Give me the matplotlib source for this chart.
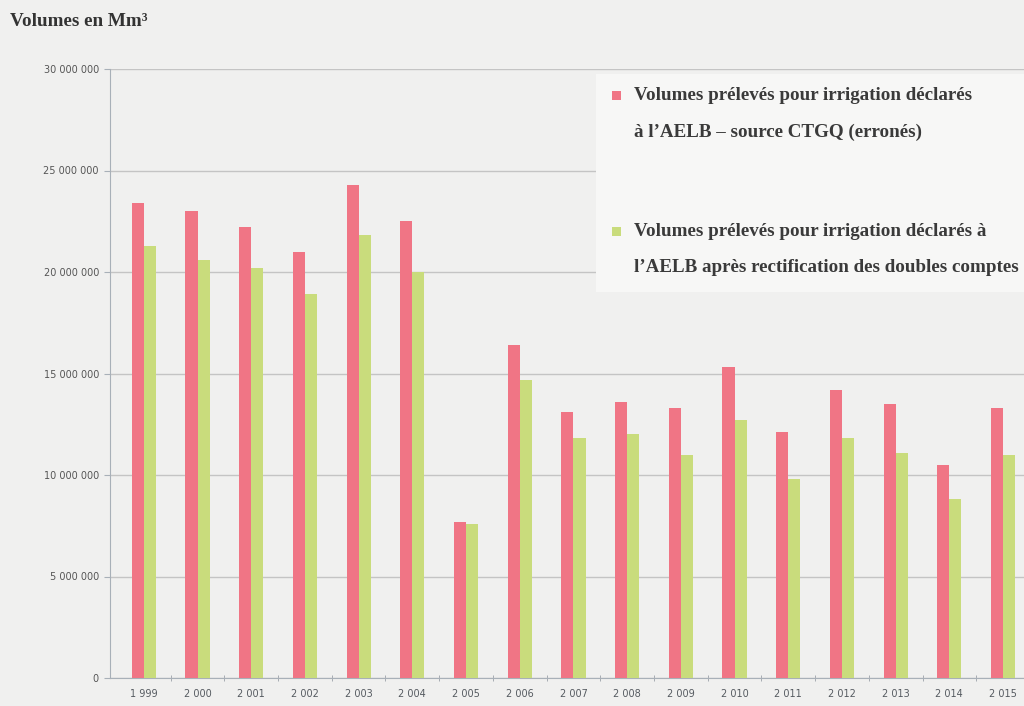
import matplotlib
matplotlib.use("Agg")
import matplotlib.pyplot as plt
from matplotlib.patches import Rectangle
from matplotlib.ticker import FuncFormatter, MultipleLocator
import numpy as np

years = [1999, 2000, 2001, 2002, 2003, 2004, 2005, 2006, 2007, 2008,
         2009, 2010, 2011, 2012, 2013, 2014, 2015]
declared_ctgq = [23.4, 23.0, 22.2, 21.0, 24.3, 22.5, 7.7, 16.4, 13.1, 13.6,
                 13.3, 15.3, 12.1, 14.2, 13.5, 10.5, 13.3]
rectified = [21.3, 20.6, 20.2, 18.9, 21.8, 20.0, 7.6, 14.7, 11.8, 12.0,
             11.0, 12.7, 9.8, 11.8, 11.1, 8.8, 11.0]
series_labels = [
    ["Volumes prélevés pour irrigation déclarés",
     "à l’AELB – source CTGQ (erronés)"],
    ["Volumes prélevés pour irrigation déclarés à",
     "l’AELB après rectification des doubles comptes"],
]
title = "Volumes en Mm³"

red = "#f07585"
green = "#c9dc7c"
bg = "#f0f0ef"

W, H = 1024, 706
fig = plt.figure(figsize=(W / 100, H / 100), dpi=100, facecolor=bg)
ax = fig.add_axes([110 / W, 1 - 678 / H, 1 - 110 / W, (678 - 69) / H])
ax.set_facecolor(bg)

x = np.arange(len(years))
bw = 0.225
v1 = np.array(declared_ctgq) * 1e6
v2 = np.array(rectified) * 1e6
ax.bar(x - bw / 2, v1, width=bw, color=red, zorder=3)
ax.bar(x + bw / 2, v2, width=bw, color=green, zorder=3)

ax.set_xlim(-0.63, 16.39)
ax.set_ylim(0, 30e6)
ax.yaxis.set_major_locator(MultipleLocator(5e6))
ax.yaxis.set_major_formatter(FuncFormatter(lambda v, p: f"{int(v):,}".replace(",", " ")))
ax.set_xticks(x)
ax.set_xticklabels([f"{y:,}".replace(",", " ") for y in years])
ax.set_xticks(np.arange(len(years) - 1) + 0.5, minor=True)
ax.tick_params(axis="x", which="major", length=0, labelsize=7, colors="#555a60", pad=8)
ax.tick_params(axis="x", which="minor", length=5, direction="inout", color="#9aa0a8")
ax.tick_params(axis="y", length=4, labelsize=7, colors="#555555", pad=4)
ax.grid(axis="y", color="#c4c4c4", linewidth=1, zorder=0)
for s in ["top", "right"]:
    ax.spines[s].set_visible(False)
ax.spines["left"].set_color("#a8b0b8")
ax.spines["bottom"].set_color("#a8b0b8")
ax.tick_params(axis="y", color="#a8b0b8")

fig.text(10 / W, 1 - 22 / H, title, fontsize=13.8, fontweight="bold",
         family="Liberation Serif", color="#333333", va="center", ha="left")

# legend area
fig.patches.append(Rectangle((596 / W, 1 - 292 / H), (W - 596) / W, (292 - 74) / H,
                             transform=fig.transFigure, facecolor="#f7f7f6",
                             edgecolor="none", zorder=1))
colors = [red, green]
rows = [(96, 132), (232, 268)]
for lab, col, (y1, y2) in zip(series_labels, colors, rows):
    fig.patches.append(Rectangle((612 / W, 1 - (y1 + 4) / H), 9 / W, 9 / H,
                                 transform=fig.transFigure, facecolor=col,
                                 edgecolor="none", zorder=2))
    fig.text(634 / W, 1 - y1 / H, lab[0], fontsize=13.7, fontweight="bold",
             family="Liberation Serif", color="#3a3a3a", va="center", zorder=3)
    fig.text(634 / W, 1 - y2 / H, lab[1], fontsize=13.7, fontweight="bold",
             family="Liberation Serif", color="#3a3a3a", va="center", zorder=3)

fig.savefig("out.png", dpi=100, facecolor=bg)
